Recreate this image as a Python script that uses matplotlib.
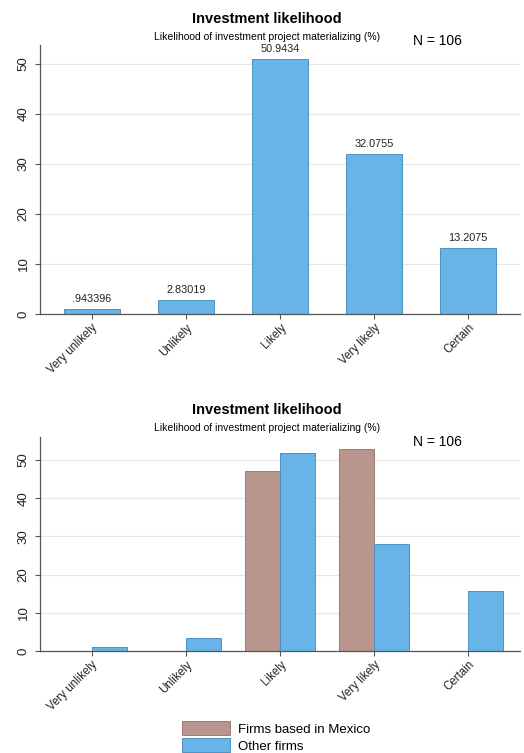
import numpy as np
import matplotlib
matplotlib.use("Agg")
from matplotlib import pyplot as plt
from matplotlib.patches import Patch

categories = ["Very unlikely", "Unlikely", "Likely", "Very likely", "Certain"]
all_firms = [0.943396, 2.83019, 50.9434, 32.0755, 13.2075]
all_labels = [".943396", "2.83019", "50.9434", "32.0755", "13.2075"]
mexico_firms = [0, 0, 47.0588, 52.9412, 0]
other_firms = [1.12360, 3.37079, 51.6854, 28.0899, 15.7303]

blue = "#68b4e8"
blue_edge = "#4f8fbf"
brown = "#b9968d"
brown_edge = "#9a7a72"
grid_c = "#e6e6e6"
spine_c = "#555555"

plt.rcParams['font.family'] = ['Liberation Sans', 'DejaVu Sans']

fig = plt.figure(figsize=(5.24, 7.53), dpi=100)
x = np.arange(len(categories))


def style(ax, ymax):
    ax.set_xlim(-0.55, 4.55)
    ax.set_ylim(0, ymax)
    ax.set_yticks([0, 10, 20, 30, 40, 50])
    ax.set_yticklabels(["0", "10", "20", "30", "40", "50"], rotation=90,
                       va="center", fontsize=9.5, color="#222222")
    ax.set_xticks(x)
    ax.set_xticklabels(categories, rotation=45, ha="right",
                       rotation_mode="anchor", fontsize=8.3, color="#222222")
    ax.tick_params(axis="both", length=3.5, color=spine_c, width=0.8)
    ax.tick_params(axis="x", pad=2)
    ax.tick_params(axis="y", pad=4)
    for s in ["top", "right"]:
        ax.spines[s].set_visible(False)
    for s in ["left", "bottom"]:
        ax.spines[s].set_color(spine_c)
        ax.spines[s].set_linewidth(0.9)
    ax.yaxis.grid(True, color=grid_c, linewidth=0.8)
    ax.set_axisbelow(True)


# top panel
ax1 = fig.add_axes([40 / 524, 1 - 314 / 753, 480 / 524, 269 / 753])
ax1.bar(x, all_firms, width=0.6, color=blue, edgecolor=blue_edge, linewidth=0.7)
for xi, v, lab in zip(x, all_firms, all_labels):
    ax1.text(xi, v + 1.0, lab, ha="center", va="bottom", fontsize=7.8,
             color="#222222")
style(ax1, 53.8)
fig.text(267 / 524, 1 - 19 / 753, "Investment likelihood", ha="center",
         va="center", fontsize=10.5, fontweight="bold")
fig.text(267 / 524, 1 - 37 / 753,
         "Likelihood of investment project materializing (%)", ha="center",
         va="center", fontsize=7.5)
fig.text(437 / 524, 1 - 41 / 753, "N = 106", ha="center", va="center",
         fontsize=10)

# bottom panel
ax2 = fig.add_axes([40 / 524, 1 - 651 / 753, 480 / 524, 214 / 753])
w = 0.37
ax2.bar(x - w / 2, mexico_firms, width=w, color=brown, edgecolor=brown_edge,
        linewidth=0.7)
ax2.bar(x + w / 2, other_firms, width=w, color=blue, edgecolor=blue_edge,
        linewidth=0.7)
style(ax2, 56.0)
fig.text(267 / 524, 1 - 410 / 753, "Investment likelihood", ha="center",
         va="center", fontsize=10.5, fontweight="bold")
fig.text(267 / 524, 1 - 428 / 753,
         "Likelihood of investment project materializing (%)", ha="center",
         va="center", fontsize=7.5)
fig.text(437 / 524, 1 - 442 / 753, "N = 106", ha="center", va="center",
         fontsize=10)

handles = [Patch(facecolor=brown, edgecolor=brown_edge, linewidth=0.7),
           Patch(facecolor=blue, edgecolor=blue_edge, linewidth=0.7)]
fig.legend(handles, ["Firms based in Mexico", "Other firms"],
           loc="center", bbox_to_anchor=(276 / 524, 1 - 737 / 753),
           frameon=False, fontsize=9.5, handlelength=3.6, handleheight=1.2,
           handletextpad=0.6, labelspacing=0.22, borderpad=0.1)

fig.savefig("out.png", dpi=100)
